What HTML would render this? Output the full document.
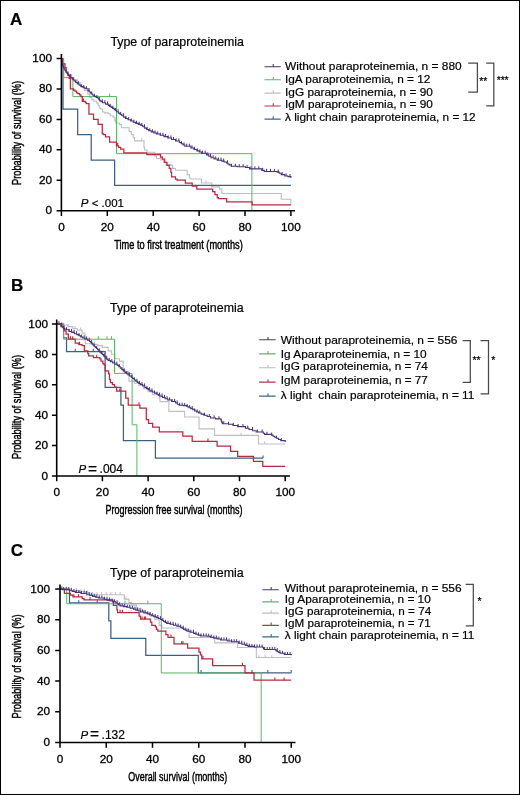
<!DOCTYPE html>
<html><head><meta charset="utf-8"><style>
html,body{margin:0;padding:0;background:#fff}
.c{stroke:#000;stroke-width:0.45px}
.k{stroke-width:0.3px}
.f{position:relative;width:520px;height:795px;box-sizing:border-box;border:1px solid #000;overflow:hidden;background:#fff}
svg{position:absolute;left:-1px;top:-1px}
text{font-family:"Liberation Sans", sans-serif;fill:#000;stroke:#000;stroke-width:0.2px}
svg{will-change:transform}
</style></head><body><div class="f"><svg width="520" height="795" viewBox="0 0 520 795">
<path d="M61.4 58.5H63.24V63.07H64.15V68.4H65.99V72.2H68.28V74.49H71.73V77.53H74.02V79.81H77.47V82.86H80.91V86.67H84.35V90.47H87.79V94.28H89.86V97.48H91.92V99.91H93.76V101.28H96.74V103.26H98.35V105.55H99.27V107.98H100.64V109.05H102.48V111.94H104.55V112.85H108.22V113.77H110.28V115.75H113.04V117.27H114.87V120.92H115.56V123.05H119.23V124.58H121.53V127.77H129.1V131.58H131.4V134.62H133.23V137.67H134.61V140.87H144.02V147.57H144.71V150H147V152.29H154.81V156.24H156.41V158.53H161V160.05H163.53V162.33H166.28V164.62H170.87V165.38H172.48V168.42H175.46V170.25H187.17V174.67H189.46V177.71H190.15V178.93H201.62V183.04H211.72V186.85H219.53V189.13H221.82V193.55H281.26V199.18H290.9V205.27H290.9" stroke="#bfbdc6" stroke-width="1.1" fill="none"/>
<path d="M115.33 120.92v-2.6M141.72 140.87v-2.6M205.99 183.04v-2.6M212.87 186.85v-2.6" stroke="#bfbdc6" stroke-width="1" fill="none"/>
<path d="M61.4 58.5H63.01V109.2H77.69V134.62H91.23V160.05H114.64V185.32H290.9" stroke="#3b6283" stroke-width="1.25" fill="none"/>
<path d="M61.4 58.5H63.7V77.53H72.88V96.56H116.48V153.66H251.88V210.75H251.88" stroke="#55b865" stroke-width="1.0" fill="none"/>
<path d="M109.59 96.56v-3" stroke="#55b865" stroke-width="1" fill="none"/>
<path d="M61.4 58.5H62.32V63.83H65.07V67.63H66.22V72.2H67.83V75.25H69.2V78.29H70.35V88.8H73.56V90.02H74.94V91.23H76.55V92.76H77.92V93.67H79.53V94.89H80.91V96.56H82.28V101.28H85.27V102.35H86.19V103.72H88.94V114.22H93.53V119.25H98.12V124.27H102.25V133.86H103.63V134.62H105.46V136.76H109.59V142.24H116.48V145.89H118.55V147.41H120.61V149.24H123.82V152.9H146.77V154.57H160.54V157.16H162.38V159.14H164.67V162.33H166.97V165.38H169.26V168.42H170.87V172.38H171.56V176.95H175.46V179.23H177.07V180H185.33V183.04H192.22V186.24H196.81V189.13H212.64V191.57H214.94V194.61H217.23V197.66H218.38V198.57H226.64V201.92H252.11V204.81H290.9" stroke="#b82a40" stroke-width="1.25" fill="none"/>
<path d="M83.43 101.28v-2.8M117.63 145.89v-2.8" stroke="#b82a40" stroke-width="1.1" fill="none"/>
<path d="M61.4 58.5H61.58V59.72H61.77V60.94H61.95V62.15H62.13V63.37H62.32V64.59H62.78V65.73H63.24V66.87H63.7V68.02H64.15V69.16H65V70.43H65.84V71.7H66.68V72.96H67.67V74.23H68.67V75.5H69.66V76.77H70.92V77.84H72.19V78.9H73.22V79.97H74.25V81.03H75.74V82.48H77.24V83.93H79.19V85.3H81.14V86.67H83.09V87.73H85.04V88.8H88.02V90.62H89.09V91.74H90.16V92.86H91.23V93.97H92.73V95.19H94.22V96.41H96.17V97.55H98.12V98.69H98.92V99.76H99.73V100.83H101.1V101.82H102.48V102.8H105.46V104.17H108.22V105.39H109.71V106.38H111.2V107.37H112.69V108.36H114.19V109.35H115.33V110.57H116.48V111.79H118.27V113.13H120.06V114.47H121.85V115.81H123.64V117.15H125.43V118.49H128.03V119.76H130.63V121.02H133.23V122.29H135.76V123.36H138.28V124.42H140.81V125.49H142.76V126.82H144.71V128.15H146.66V129.49H148.61V130.82H151.21V131.88H153.81V132.95H156.41V134.02H160.2V135.31H163.99V136.6H167.77V138.05H171.56V139.5H175.46V141.02H179.36V142.54H181.2V143.76H183.03V144.98H184.87V146.2H190.84V148.02H193.94V149.47H197.03V150.92H199.33V152.06H201.62V153.2H206.44V154.87H208.74V156.32H211.03V157.77H214.13V158.99H217.23V160.2H221.82V161.12H224.12V162.03H226.41V162.94H227.79V163.93H229.16V164.92H231.23V166.29H237.2V166.75H245.46V167.51H249.59V168.88H260.38V168.88H261.75V170.4H264.28V171.47H275.06V171.47H277.13V172.08H279.2V173.3H281.26V174.67H284.7V176.04H287.92V176.65H290.9V178.02H290.9" stroke="#47337a" stroke-width="1.1" fill="none"/>
<path d="M70.58 76.77v-2.6M73.22 79.97v-2.6M75.86 82.48v-2.6M78.5 83.93v-2.6M81.14 86.67v-2.6M83.78 87.73v-2.6M86.42 88.8v-2.6M89.05 90.62v-2.6M91.69 93.97v-2.6M94.33 96.41v-2.6M96.97 97.55v-2.6M99.61 99.76v-2.6M102.25 101.82v-2.6M104.89 102.8v-2.6M107.53 104.17v-2.6M110.17 106.38v-2.6M112.81 108.36v-2.6M115.45 110.57v-2.6M118.09 111.79v-2.6M120.73 114.47v-2.6M123.36 115.81v-2.6M126 118.49v-2.6M128.64 119.76v-2.6M131.28 121.02v-2.6M133.92 122.29v-2.6M136.56 123.36v-2.6M139.2 124.42v-2.6M141.84 125.49v-2.6M144.48 126.82v-2.6M147.12 129.49v-2.6M149.76 130.82v-2.6M152.4 131.88v-2.6M155.04 132.95v-2.6M157.68 134.02v-2.6M160.31 135.31v-2.6M162.95 135.31v-2.6M165.59 136.6v-2.6M168.23 138.05v-2.6M170.87 138.05v-2.6M173.51 139.5v-2.6M176.15 141.02v-2.6M178.79 141.02v-2.6M181.43 143.76v-2.6M184.07 144.98v-2.6M186.71 146.2v-2.6M189.35 146.2v-2.6M191.99 148.02v-2.6M194.62 149.47v-2.6M197.26 150.92v-2.6M199.9 152.06v-2.6M202.54 153.2v-2.6M205.18 153.2v-2.6M207.82 154.87v-2.6M210.46 156.32v-2.6M213.1 157.77v-2.6M215.74 158.99v-2.6M218.38 160.2v-2.6M221.02 160.2v-2.6M223.66 161.12v-2.6M227.56 162.94v-2.6M231.46 166.29v-2.6M235.36 166.29v-2.6M239.26 166.75v-2.6M243.16 166.75v-2.6M247.07 167.51v-2.6M250.97 168.88v-2.6M254.87 168.88v-2.6M258.77 168.88v-2.6M262.67 170.4v-2.6M266.57 171.47v-2.6M270.47 171.47v-2.6M274.38 171.47v-2.6M278.28 172.08v-2.6M282.18 174.67v-2.6M286.08 176.04v-2.6M289.98 176.65v-2.6" stroke="#47337a" stroke-width="1.0" fill="none"/>
<text x="10" y="25" font-weight="bold" font-size="17">A</text>
<text x="110.4" y="46.1" font-size="12.4">Type of paraproteinemia</text>
<path d="M61.4 54V210.75H295" stroke="#000" stroke-width="1.6" fill="none"/>
<text x="52" y="214.25" font-size="11" class="k" text-anchor="end" textLength="6.55" lengthAdjust="spacingAndGlyphs">0</text>
<text x="52" y="183.8" font-size="11" class="k" text-anchor="end" textLength="13.1" lengthAdjust="spacingAndGlyphs">20</text>
<text x="52" y="153.35" font-size="11" class="k" text-anchor="end" textLength="13.1" lengthAdjust="spacingAndGlyphs">40</text>
<text x="52" y="122.9" font-size="11" class="k" text-anchor="end" textLength="13.1" lengthAdjust="spacingAndGlyphs">60</text>
<text x="52" y="92.45" font-size="11" class="k" text-anchor="end" textLength="13.1" lengthAdjust="spacingAndGlyphs">80</text>
<text x="52" y="62" font-size="11" class="k" text-anchor="end" textLength="19.65" lengthAdjust="spacingAndGlyphs">100</text>
<text x="61.4" y="230.75" font-size="11" class="k" text-anchor="middle" textLength="6.55" lengthAdjust="spacingAndGlyphs">0</text>
<text x="107.3" y="230.75" font-size="11" class="k" text-anchor="middle" textLength="13.1" lengthAdjust="spacingAndGlyphs">20</text>
<text x="153.2" y="230.75" font-size="11" class="k" text-anchor="middle" textLength="13.1" lengthAdjust="spacingAndGlyphs">40</text>
<text x="199.1" y="230.75" font-size="11" class="k" text-anchor="middle" textLength="13.1" lengthAdjust="spacingAndGlyphs">60</text>
<text x="245" y="230.75" font-size="11" class="k" text-anchor="middle" textLength="13.1" lengthAdjust="spacingAndGlyphs">80</text>
<text x="290.9" y="230.75" font-size="11" class="k" text-anchor="middle" textLength="19.65" lengthAdjust="spacingAndGlyphs">100</text>
<path d="M56.6 210.75H61.4M56.6 180.3H61.4M56.6 149.85H61.4M56.6 119.4H61.4M56.6 88.95H61.4M56.6 58.5H61.4M61.4 210.75V215.95M107.3 210.75V215.95M153.2 210.75V215.95M199.1 210.75V215.95M245 210.75V215.95M290.9 210.75V215.95" stroke="#000" stroke-width="1.5" fill="none"/>
<text x="178.5" y="249.1" font-size="12.3" text-anchor="middle" textLength="128.5" lengthAdjust="spacingAndGlyphs" class="c">Time to first treatment (months)</text>
<text transform="translate(21.2 132.9) rotate(-90)" x="0" y="0" font-size="12.5" text-anchor="middle" textLength="104" lengthAdjust="spacingAndGlyphs" class="c">Probability of survival (%)</text>
<path d="M264.5 66.7H280.8M273.25 66.7V63.9" stroke="#4a3a6c" stroke-width="1.1" fill="none"/>
<text x="285" y="70.3" font-size="11.7" textLength="176.7" lengthAdjust="spacingAndGlyphs" xml:space="preserve">Without paraproteinemia, n = 880</text>
<path d="M264.5 79.8H280.8M273.25 79.8V77" stroke="#6aae74" stroke-width="1.1" fill="none"/>
<text x="285" y="82.6" font-size="11.7" textLength="145.3" lengthAdjust="spacingAndGlyphs" xml:space="preserve">IgA paraproteinemia, n = 12</text>
<path d="M264.5 93.1H280.8M273.25 93.1V90.3" stroke="#c0bccb" stroke-width="1.1" fill="none"/>
<text x="285" y="95.5" font-size="11.7" textLength="147.9" lengthAdjust="spacingAndGlyphs" xml:space="preserve">IgG paraproteinemia, n = 90</text>
<path d="M264.5 106H280.8M273.25 106V103.2" stroke="#b9334b" stroke-width="1.1" fill="none"/>
<text x="285" y="108.3" font-size="11.7" textLength="147.9" lengthAdjust="spacingAndGlyphs" xml:space="preserve">IgM paraproteinemia, n = 90</text>
<path d="M264.5 119.1H280.8M273.25 119.1V116.3" stroke="#3f6686" stroke-width="1.1" fill="none"/>
<text x="285" y="121.4" font-size="11.7" textLength="190.7" lengthAdjust="spacingAndGlyphs" xml:space="preserve">λ light chain paraproteinemia, n = 12</text>
<text x="80.8" y="206.8" font-size="11.5" xml:space="preserve"><tspan font-style="italic">P</tspan> < .001</text>
<path d="M56.7 324H61.27V325.06H67.9V326.58H72.92V328.56H77.27V330.08H82.06V333.12H84.81V335.7H85.26V343.76H93.26V344.37H97.83V345.58H102.4V347.41H108.11V350.9H111.54V354.25H114.97V358.81H119.54V361.09H123.19V371.58H128.45V373.86H128.91V381.15H134.39V383.28H138.96V385.56H143.53V388.6H148.1V391.64H152.67V394.68H159.3V398.18H159.98V401.67H168.89V411.4H184.66V417.02H199.06V428.88H214.59V435.42H258.47V443.93H285.2" stroke="#bfbdc6" stroke-width="1.1" fill="none"/>
<path d="M58.98 324v-2.6M62.41 325.06v-2.6M68.12 326.58v-2.6M74.98 328.56v-2.6M80.69 330.08v-2.6M94.4 344.37v-2.6M134.39 383.28v-2.6M241.1 435.42v-2.6M264.63 443.93v-2.6" stroke="#bfbdc6" stroke-width="1" fill="none"/>
<path d="M56.7 324H63.56V337.83H66.53V351.66H105.14V387.38H120.91V405.02H123.42V440.58H155.41V458.22H263.04" stroke="#3b6283" stroke-width="1.25" fill="none"/>
<path d="M75.21 351.66v-2.8M93.26 351.66v-2.8M263.04 458.22v-2.8" stroke="#3b6283" stroke-width="1.1" fill="none"/>
<path d="M56.7 324H63.56V339.2H114.51V373.4H132.11V424.78H136.9V476H136.9" stroke="#55b865" stroke-width="1.0" fill="none"/>
<path d="M98.29 339.2v-3M106.97 339.2v-3M111.54 339.2v-3" stroke="#55b865" stroke-width="1" fill="none"/>
<path d="M56.7 324H60.81V326.58H63.56V328.56H64.01V330.99H66.07V334.18H68.35V339.05H75.21V343H78.86V344.52H82.06V345.58H84.35V350.75H87.78V353.64H88.69V355.77H93.49V357.59H99.89V358.81H101.03V361.09H102.86V363.52H104V364.58H105.14V370.82H108.57V373.86H109.48V379.48H110.4V382.52H112.45V384.65H114.51V387.08H116.57V391.18H125.71V398.18H128.22V405.02H139.87V408.06H146.27V419.61H148.56V423.41H152.67V427.06H159.3V431.92H182.83V436.02H192.2V441.34H217.11V446.06H230.59V451.38H237.67V456.39H253.44V461.41H262.81V466.27H285.2" stroke="#b82a40" stroke-width="1.25" fill="none"/>
<path d="M70.41 339.05v-2.8M72.7 339.05v-2.8M79.55 344.52v-2.8M96.69 357.59v-2.8M119.77 391.18v-2.8M138.96 405.02v-2.8M207.97 441.34v-2.8" stroke="#b82a40" stroke-width="1.1" fill="none"/>
<path d="M56.7 324H59.21V324H61.27V325.22H61.84V326.2H62.41V327.19H63.44V328.18H64.47V329.17H66.53V329.78H69.04V331.45H71.78V332.36H74.29V333.73H76.81V334.64H78.86V335.7H80.69V337.07H82.75V337.98H84.81V339.05H87.32V340.26H89.6V341.48H90.75V342.66H91.89V343.84H93.03V345.01H94.17V346.19H95.32V347.37H96.46V348.55H97.6V349.73H98.74V350.9H99.94V352.16H101.14V353.41H102.34V354.67H103.54V355.92H104.69V357.06H105.83V358.2H106.97V359.34H108.11V360.48H110.4V361.77H112.68V363.06H114.97V364.2H117.25V365.34H118.78V366.76H120.3V368.18H121.82V369.6H123.35V370.97H124.87V372.34H126.39V373.7H127.99V374.87H129.59V376.03H131.19V377.2H132.71V378.57H134.24V379.94H135.76V381.3H137.28V382.37H138.81V383.43H140.33V384.5H142.62V386.02H144.9V387.54H146.58V388.65H148.25V389.77H149.93V390.88H152.21V391.99H154.5V393.11H156.78V394.22H158.38V395.21H159.98V396.2H162.57V397.47H165.16V398.73H167.75V400H171.64V401.52H175.52V403.04H177.35V404.18H179.18V405.32H183.06V405.62H186.94V406.69H188.89V407.68H190.83V408.66H192.77V409.8H194.71V410.94H196.66V412.01H198.6V413.07H201.23V414.14H203.85V415.2H207.17V416.57H210.48V417.94H215.62V418.85H220.76V419.76H221.3V421.08H221.83V422.39H222.36V423.71H228.53V424.32H233.1V425.46H237.67V426.6H245.44V428.27H249.02V429.54H252.6V430.81H256.18V432.07H262.12V432.07H263.38V433.21H264.63V434.35H271.49V435.11H273.09V436.18H274.69V437.24H276.29V438.3H278.57V439.44H280.86V440.58H285.2V442.1H285.2" stroke="#47337a" stroke-width="1.1" fill="none"/>
<path d="M58.98 324v-2.6M61.5 325.22v-2.6M64.01 328.18v-2.6M66.53 329.78v-2.6M69.04 331.45v-2.6M71.55 331.45v-2.6M74.07 332.36v-2.6M76.58 333.73v-2.6M79.09 335.7v-2.6M81.61 337.07v-2.6M84.12 337.98v-2.6M86.63 339.05v-2.6M89.15 340.26v-2.6M91.66 342.66v-2.6M94.17 346.19v-2.6M96.69 348.55v-2.6M99.2 350.9v-2.6M101.71 353.41v-2.6M104.23 355.92v-2.6M106.74 358.2v-2.6M109.26 360.48v-2.6M111.77 361.77v-2.6M114.28 363.06v-2.6M116.8 364.2v-2.6M119.31 366.76v-2.6M121.82 369.6v-2.6M124.34 370.97v-2.6M126.85 373.7v-2.6M129.36 374.87v-2.6M131.88 377.2v-2.6M134.39 379.94v-2.6M136.9 381.3v-2.6M139.42 383.43v-2.6M141.93 384.5v-2.6M144.44 386.02v-2.6M146.96 388.65v-2.6M149.47 389.77v-2.6M151.98 390.88v-2.6M154.5 393.11v-2.6M157.01 394.22v-2.6M159.53 395.21v-2.6M162.04 396.2v-2.6M164.55 397.47v-2.6M167.07 398.73v-2.6M169.58 400v-2.6M172.09 401.52v-2.6M174.61 401.52v-2.6M177.12 403.04v-2.6M179.63 405.32v-2.6M182.15 405.32v-2.6M184.66 405.62v-2.6M187.17 406.69v-2.6M189.69 407.68v-2.6M192.2 408.66v-2.6M194.71 410.94v-2.6M197.23 412.01v-2.6M199.74 413.07v-2.6M204.54 415.2v-2.6M209.34 416.57v-2.6M214.14 417.94v-2.6M218.94 418.85v-2.6M223.73 423.71v-2.6M228.53 424.32v-2.6M233.33 425.46v-2.6M238.13 426.6v-2.6M242.93 426.6v-2.6M247.73 428.27v-2.6M252.52 429.54v-2.6M257.32 432.07v-2.6M262.12 432.07v-2.6M266.92 434.35v-2.6M271.72 435.11v-2.6M276.52 438.3v-2.6M281.32 440.58v-2.6" stroke="#47337a" stroke-width="1.0" fill="none"/>
<text x="11" y="290.9" font-weight="bold" font-size="17">B</text>
<text x="110" y="312" font-size="12.4">Type of paraproteinemia</text>
<path d="M56.7 319.5V476H290" stroke="#000" stroke-width="1.6" fill="none"/>
<text x="48" y="479.5" font-size="11" class="k" text-anchor="end" textLength="6.55" lengthAdjust="spacingAndGlyphs">0</text>
<text x="48" y="449.1" font-size="11" class="k" text-anchor="end" textLength="13.1" lengthAdjust="spacingAndGlyphs">20</text>
<text x="48" y="418.7" font-size="11" class="k" text-anchor="end" textLength="13.1" lengthAdjust="spacingAndGlyphs">40</text>
<text x="48" y="388.3" font-size="11" class="k" text-anchor="end" textLength="13.1" lengthAdjust="spacingAndGlyphs">60</text>
<text x="48" y="357.9" font-size="11" class="k" text-anchor="end" textLength="13.1" lengthAdjust="spacingAndGlyphs">80</text>
<text x="48" y="327.5" font-size="11" class="k" text-anchor="end" textLength="19.65" lengthAdjust="spacingAndGlyphs">100</text>
<text x="56.7" y="496" font-size="11" class="k" text-anchor="middle" textLength="6.55" lengthAdjust="spacingAndGlyphs">0</text>
<text x="102.4" y="496" font-size="11" class="k" text-anchor="middle" textLength="13.1" lengthAdjust="spacingAndGlyphs">20</text>
<text x="148.1" y="496" font-size="11" class="k" text-anchor="middle" textLength="13.1" lengthAdjust="spacingAndGlyphs">40</text>
<text x="193.8" y="496" font-size="11" class="k" text-anchor="middle" textLength="13.1" lengthAdjust="spacingAndGlyphs">60</text>
<text x="239.5" y="496" font-size="11" class="k" text-anchor="middle" textLength="13.1" lengthAdjust="spacingAndGlyphs">80</text>
<text x="285.2" y="496" font-size="11" class="k" text-anchor="middle" textLength="19.65" lengthAdjust="spacingAndGlyphs">100</text>
<path d="M51.9 476H56.7M51.9 445.6H56.7M51.9 415.2H56.7M51.9 384.8H56.7M51.9 354.4H56.7M51.9 324H56.7M56.7 476V481.2M102.4 476V481.2M148.1 476V481.2M193.8 476V481.2M239.5 476V481.2M285.2 476V481.2" stroke="#000" stroke-width="1.5" fill="none"/>
<text x="173.9" y="514.3" font-size="12.3" text-anchor="middle" textLength="137" lengthAdjust="spacingAndGlyphs" class="c">Progression free survival (months)</text>
<text transform="translate(21.2 407) rotate(-90)" x="0" y="0" font-size="12.5" text-anchor="middle" textLength="104" lengthAdjust="spacingAndGlyphs" class="c">Probability of survival (%)</text>
<path d="M259.1 339.8H275.6M267.95 339.8V337" stroke="#4a3a6c" stroke-width="1.1" fill="none"/>
<text x="280.8" y="344.4" font-size="11.7" textLength="176.7" lengthAdjust="spacingAndGlyphs" xml:space="preserve">Without paraproteinemia, n = 556</text>
<path d="M259.1 353.9H275.6M267.95 353.9V351.1" stroke="#6aae74" stroke-width="1.1" fill="none"/>
<text x="280.8" y="357.5" font-size="11.7" textLength="145.9" lengthAdjust="spacingAndGlyphs" xml:space="preserve">Ig Aparaproteinemia, n = 10</text>
<path d="M259.1 367.8H275.6M267.95 367.8V365" stroke="#c0bccb" stroke-width="1.1" fill="none"/>
<text x="280.8" y="370.2" font-size="11.7" textLength="147.1" lengthAdjust="spacingAndGlyphs" xml:space="preserve">IgG paraproteinemia, n = 74</text>
<path d="M259.1 382.1H275.6M267.95 382.1V379.3" stroke="#b9334b" stroke-width="1.1" fill="none"/>
<text x="280.8" y="383.6" font-size="11.7" textLength="147.1" lengthAdjust="spacingAndGlyphs" xml:space="preserve">IgM paraproteinemia, n = 77</text>
<path d="M259.1 396.1H275.6M267.95 396.1V393.3" stroke="#3f6686" stroke-width="1.1" fill="none"/>
<text x="280.8" y="398.5" font-size="11.7" textLength="193.6" lengthAdjust="spacingAndGlyphs" xml:space="preserve">λ light  chain paraproteinemia, n = 11</text>
<text x="78.4" y="473.4" font-size="11.5"><tspan font-style="italic">P</tspan><tspan x="88" y="474" font-size="15.5">=</tspan><tspan x="99.6" y="473.4" font-size="12">.004</tspan></text>
<path d="M60 589H64.62V589.77H71.56V590.53H78.5V591.76H85.44V592.84H90.06V594.68H124.29V599.13H128.91V602.51H131.69V605.12H136.31V608.19H140.94V610.49H145.56V612.79H150.19V615.86H154.81V619.7H159.21V625.38H161.98V627.99H183.72V629.37H189.04V637.51H214.71V642.88H237.6V647.48H256.33V657.46H291.25" stroke="#bfbdc6" stroke-width="1.1" fill="none"/>
<path d="M62.31 589v-2.6M66.94 589.77v-2.6M71.56 590.53v-2.6M76.19 590.53v-2.6M80.81 591.76v-2.6M84.28 591.76v-2.6M87.75 592.84v-2.6M92.38 594.68v-2.6M97 594.68v-2.6M101.62 594.68v-2.6M106.25 594.68v-2.6M110.88 594.68v-2.6M115.5 594.68v-2.6M120.12 594.68v-2.6M125.91 599.13v-2.6M258.88 657.46v-2.6M265.12 657.46v-2.6M271.82 657.46v-2.6" stroke="#bfbdc6" stroke-width="1" fill="none"/>
<path d="M60 589H69.48V602.97H108.79V620.77H110.88V638.27H145.79V655.47H198.29V672.81H291.25" stroke="#3b6283" stroke-width="1.25" fill="none"/>
<path d="M78.73 602.97v-2.8M97.23 602.97v-2.8M201.06 672.81v-2.8M251.94 672.81v-2.8M267.89 672.81v-2.8M291.25 672.81v-2.8" stroke="#3b6283" stroke-width="1.1" fill="none"/>
<path d="M60 589H66.71V603.74H161.29V672.96H261.19V742.5H261.19" stroke="#55b865" stroke-width="1.0" fill="none"/>
<path d="M124.98 603.74v-3M147.88 603.74v-3" stroke="#55b865" stroke-width="1" fill="none"/>
<path d="M60 589H64.39V593.45H70.41V595.14H72.95V596.98H82.2V598.67H84.05V599.9H112.72V601.28H113.42V605.27H116.89V609.88H117.58V612.64H139.09V616.02H140.47V619.24H150.42V622H151.81V625.38H155.28V626.76H156.43V629.37H157.82V631.21H165.91V634.74H167.99V637.35H174.01V643.95H187.65V648.1H198.98V652.09H200.37V654.85H201.76V658.84H212.62V665.6H245V672.81H254.02V680.18H291.25" stroke="#b82a40" stroke-width="1.25" fill="none"/>
<path d="M73.88 596.98v-2.8M78.5 596.98v-2.8M90.06 599.9v-2.8M120.12 612.64v-2.8M122.44 612.64v-2.8M142.09 619.24v-2.8M144.41 619.24v-2.8M145.56 619.24v-2.8M171 637.35v-2.8M181.64 643.95v-2.8M183.03 643.95v-2.8M202.91 658.84v-2.8M242.46 665.6v-2.8M274.83 680.18v-2.8M284.08 680.18v-2.8" stroke="#b82a40" stroke-width="1.1" fill="none"/>
<path d="M60 589H62.31V589.61H69.48V590.69H72.37V591.53H75.26V592.38H81.04V593.45H86.83V594.68H89.72V595.52H92.61V596.37H95.5V597.21H98.39V598.06H104.17V599.28H107.06V600.13H109.95V600.97H112.84V601.89H115.73V602.82H117.2V603.84H118.66V604.86H120.12V605.88H123.48V606.58H126.83V607.27H130.18V608.26H133.54V609.26H135.85V610.13H138.16V611H140.47V611.87H143.83V612.87H147.18V613.87H149.42V614.79H151.65V615.71H153.89V616.63H156.12V617.6H158.36V618.57H160.59V619.55H162.1V620.51H163.6V621.47H165.1V622.42H166.61V623.38H170.07V624.31H173.54V625.23H176.9V626.22H180.25V627.22H181.93V628.22H183.6V629.22H185.28V630.21H186.96V631.21H190.31V632.29H193.66V633.36H195.9V634.23H198.13V635.1H200.37V635.97H207.08V636.28H210.43V637.2H213.78V638.12H217.13V639.04H220.49V639.96H227.19V641.04H231.59V641.8H238.53V643.19H241.88V644.26H245.23V645.33H248.01V646.41H254.25V647.02H262.81V647.48H263.38V648.48H263.96V649.48H275.99V650.86H277.38V651.68H278.76V652.5H280.15V653.32H284.31V654.54H291.25V655.31H291.25" stroke="#47337a" stroke-width="1.1" fill="none"/>
<path d="M61.16 589v-2.6M63.7 589.61v-2.6M66.24 589.61v-2.6M68.79 589.61v-2.6M71.33 590.69v-2.6M73.88 591.53v-2.6M76.42 592.38v-2.6M78.96 592.38v-2.6M81.51 593.45v-2.6M84.05 593.45v-2.6M86.59 593.45v-2.6M89.14 594.68v-2.6M91.68 595.52v-2.6M94.22 596.37v-2.6M96.77 597.21v-2.6M99.31 598.06v-2.6M101.86 598.06v-2.6M104.4 599.28v-2.6M106.94 599.28v-2.6M109.49 600.13v-2.6M112.03 600.97v-2.6M114.58 601.89v-2.6M117.12 602.82v-2.6M119.66 604.86v-2.6M122.21 605.88v-2.6M124.75 606.58v-2.6M127.29 607.27v-2.6M129.84 607.27v-2.6M132.38 608.26v-2.6M134.93 609.26v-2.6M137.47 610.13v-2.6M140.01 611v-2.6M142.56 611.87v-2.6M145.1 612.87v-2.6M147.64 613.87v-2.6M150.19 614.79v-2.6M152.73 615.71v-2.6M155.28 616.63v-2.6M157.82 617.6v-2.6M160.36 618.57v-2.6M162.91 620.51v-2.6M165.45 622.42v-2.6M167.99 623.38v-2.6M170.54 624.31v-2.6M173.08 624.31v-2.6M175.63 625.23v-2.6M178.17 626.22v-2.6M180.71 627.22v-2.6M183.26 628.22v-2.6M185.8 630.21v-2.6M188.34 631.21v-2.6M190.89 632.29v-2.6M193.43 632.29v-2.6M195.98 634.23v-2.6M198.52 635.1v-2.6M201.06 635.97v-2.6M203.61 635.97v-2.6M206.15 635.97v-2.6M208.69 636.28v-2.6M211.24 637.2v-2.6M213.78 638.12v-2.6M216.33 638.12v-2.6M218.87 639.04v-2.6M221.41 639.96v-2.6M223.96 639.96v-2.6M226.5 639.96v-2.6M229.04 641.04v-2.6M231.59 641.8v-2.6M234.13 641.8v-2.6M236.67 641.8v-2.6M239.22 643.19v-2.6M241.76 643.19v-2.6M244.31 644.26v-2.6M246.85 645.33v-2.6M249.39 646.41v-2.6M251.94 646.41v-2.6M254.48 647.02v-2.6M257.02 647.02v-2.6M259.57 647.02v-2.6M262.11 647.02v-2.6M264.66 649.48v-2.6M267.2 649.48v-2.6M269.74 649.48v-2.6M272.29 649.48v-2.6M274.83 649.48v-2.6M277.37 650.86v-2.6M279.92 652.5v-2.6M282.46 653.32v-2.6M285.01 654.54v-2.6M287.55 654.54v-2.6M290.09 654.54v-2.6" stroke="#47337a" stroke-width="1.0" fill="none"/>
<text x="10.8" y="556" font-weight="bold" font-size="17">C</text>
<text x="110" y="576.9" font-size="12.4">Type of paraproteinemia</text>
<path d="M60 584.6V742.5H295.5" stroke="#000" stroke-width="1.6" fill="none"/>
<text x="50" y="746" font-size="11" class="k" text-anchor="end" textLength="6.55" lengthAdjust="spacingAndGlyphs">0</text>
<text x="50" y="715.3" font-size="11" class="k" text-anchor="end" textLength="13.1" lengthAdjust="spacingAndGlyphs">20</text>
<text x="50" y="684.6" font-size="11" class="k" text-anchor="end" textLength="13.1" lengthAdjust="spacingAndGlyphs">40</text>
<text x="50" y="653.9" font-size="11" class="k" text-anchor="end" textLength="13.1" lengthAdjust="spacingAndGlyphs">60</text>
<text x="50" y="623.2" font-size="11" class="k" text-anchor="end" textLength="13.1" lengthAdjust="spacingAndGlyphs">80</text>
<text x="50" y="592.5" font-size="11" class="k" text-anchor="end" textLength="19.65" lengthAdjust="spacingAndGlyphs">100</text>
<text x="60" y="762.5" font-size="11" class="k" text-anchor="middle" textLength="6.55" lengthAdjust="spacingAndGlyphs">0</text>
<text x="106.25" y="762.5" font-size="11" class="k" text-anchor="middle" textLength="13.1" lengthAdjust="spacingAndGlyphs">20</text>
<text x="152.5" y="762.5" font-size="11" class="k" text-anchor="middle" textLength="13.1" lengthAdjust="spacingAndGlyphs">40</text>
<text x="198.75" y="762.5" font-size="11" class="k" text-anchor="middle" textLength="13.1" lengthAdjust="spacingAndGlyphs">60</text>
<text x="245" y="762.5" font-size="11" class="k" text-anchor="middle" textLength="13.1" lengthAdjust="spacingAndGlyphs">80</text>
<text x="291.25" y="762.5" font-size="11" class="k" text-anchor="middle" textLength="19.65" lengthAdjust="spacingAndGlyphs">100</text>
<path d="M55.2 742.5H60M55.2 711.8H60M55.2 681.1H60M55.2 650.4H60M55.2 619.7H60M55.2 589H60M60 742.5V747.7M106.25 742.5V747.7M152.5 742.5V747.7M198.75 742.5V747.7M245 742.5V747.7M291.25 742.5V747.7" stroke="#000" stroke-width="1.5" fill="none"/>
<text x="177.75" y="781.2" font-size="12.3" text-anchor="middle" textLength="99" lengthAdjust="spacingAndGlyphs" class="c">Overall survival (months)</text>
<text transform="translate(21.2 666.4) rotate(-90)" x="0" y="0" font-size="12.5" text-anchor="middle" textLength="104" lengthAdjust="spacingAndGlyphs" class="c">Probability of survival (%)</text>
<path d="M262.3 589.8H278.8M271.15 589.8V587" stroke="#4a3a6c" stroke-width="1.1" fill="none"/>
<text x="284.8" y="591.8" font-size="11.7" textLength="176.8" lengthAdjust="spacingAndGlyphs" xml:space="preserve">Without paraproteinemia, n = 556</text>
<path d="M262.3 601.9H278.8M271.15 601.9V599.1" stroke="#6aae74" stroke-width="1.1" fill="none"/>
<text x="284.8" y="603.4" font-size="11.7" textLength="146" lengthAdjust="spacingAndGlyphs" xml:space="preserve">Ig Aparaproteinemia, n = 10</text>
<path d="M262.3 613.1H278.8M271.15 613.1V610.3" stroke="#c0bccb" stroke-width="1.1" fill="none"/>
<text x="284.8" y="615.3" font-size="11.7" textLength="146.5" lengthAdjust="spacingAndGlyphs" xml:space="preserve">IgG paraproteinemia, n = 74</text>
<path d="M262.3 625.4H278.8M271.15 625.4V622.6" stroke="#b9334b" stroke-width="1.1" fill="none"/>
<text x="284.8" y="626.9" font-size="11.7" textLength="146" lengthAdjust="spacingAndGlyphs" xml:space="preserve">IgM paraproteinemia, n = 71</text>
<path d="M262.3 636.9H278.8M271.15 636.9V634.1" stroke="#3f6686" stroke-width="1.1" fill="none"/>
<text x="284.8" y="639.2" font-size="11.7" textLength="189.5" lengthAdjust="spacingAndGlyphs" xml:space="preserve">λ light chain paraproteinemia, n = 11</text>
<text x="80.4" y="738.6" font-size="11.5"><tspan font-style="italic">P</tspan><tspan x="90" y="739.2" font-size="15.5">=</tspan><tspan x="101.6" y="738.6" font-size="12">.132</tspan></text>
<path d="M468.2 63.2H477.4V92.2H468.2" stroke="#4a4a4a" stroke-width="1.25" fill="none"/>
<text x="479.3" y="85" font-size="10.5" letter-spacing="-0.2">**</text>
<path d="M486.2 63.2H493.8V105.8H486.2" stroke="#4a4a4a" stroke-width="1.25" fill="none"/>
<text x="496.8" y="84" font-size="10.5" letter-spacing="-0.2">***</text>
<path d="M462.6 340.5H470.3V382.3H462.6" stroke="#4a4a4a" stroke-width="1.25" fill="none"/>
<text x="472.5" y="364" font-size="10.5" letter-spacing="-0.2">**</text>
<path d="M480.5 340.5H488.5V393.8H480.5" stroke="#4a4a4a" stroke-width="1.25" fill="none"/>
<text x="491.2" y="364" font-size="10.5" letter-spacing="-0.2">*</text>
<path d="M465.7 584.3H473.3V625.8H465.7" stroke="#4a4a4a" stroke-width="1.25" fill="none"/>
<text x="477.5" y="605" font-size="10.5" letter-spacing="-0.2">*</text>
</svg></div></body></html>
